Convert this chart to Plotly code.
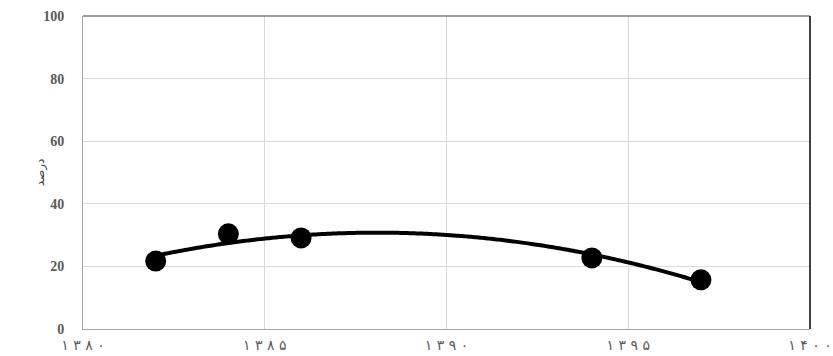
import numpy as np
import plotly.graph_objects as go

years = [1382, 1384, 1386, 1394, 1397]
values = [21.7, 30.4, 29.1, 22.7, 15.7]
x_ticks = [1380, 1385, 1390, 1395, 1400]
x_tick_labels = ["۱۳۸۰", "۱۳۸۵", "۱۳۹۰", "۱۳۹۵", "۱۴۰۰"]
y_ticks = [0, 20, 40, 60, 80, 100]
y_title = "درصد"

def spaced(s):
    return " ".join(list(s))

coef = np.polyfit(years, values, 2)
fx = np.linspace(min(years), max(years), 300)
fy = np.polyval(coef, fx)

fig = go.Figure()
fig.add_trace(go.Scatter(x=fx, y=fy, mode="lines",
                         line=dict(color="black", width=4, simplify=False),
                         hoverinfo="skip", showlegend=False))
fig.add_trace(go.Scatter(x=years, y=values, mode="markers",
                         marker=dict(color="black", size=21), showlegend=False))

fig.update_layout(
    width=833, height=356,
    margin=dict(l=83, r=23, t=16, b=27),
    paper_bgcolor="white", plot_bgcolor="white",
    xaxis=dict(range=[1380, 1400], tickvals=x_ticks,
               ticktext=[spaced(t) for t in x_tick_labels],
               showgrid=True, gridcolor="#d9d9d9", gridwidth=1,
               showline=True, linecolor="#a6a6a6", linewidth=1,
               zeroline=False, ticks="", ticklabelstandoff=3, automargin=False,
               tickfont=dict(family="DejaVu Sans", size=14, color="#595959")),
    yaxis=dict(range=[0, 100], tickvals=y_ticks,
               showgrid=True, gridcolor="#d9d9d9", gridwidth=1,
               showline=True, linecolor="#a6a6a6", linewidth=1,
               zeroline=False, ticks="", ticklabelstandoff=15, automargin=False,
               tickfont=dict(family="Liberation Serif", size=14, color="#595959",
                             weight="bold")),
)
fig.add_annotation(text=y_title, xref="paper", yref="paper", x=-0.058, y=0.5,
                   xanchor="center", yanchor="middle", textangle=-90, showarrow=False,
                   font=dict(family="DejaVu Sans", size=12, color="#404040"))
fig.add_shape(type="line", xref="x domain", yref="y domain", x0=0, x1=1, y0=1, y1=1,
              line=dict(color="#404040", width=1))
fig.add_shape(type="line", xref="x domain", yref="y domain", x0=1, x1=1, y0=0, y1=1,
              line=dict(color="black", width=1.5))
fig.write_html("out.html")
